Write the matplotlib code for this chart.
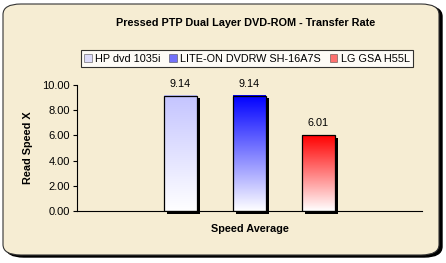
import numpy as np
import matplotlib
matplotlib.use('Agg')
import matplotlib.pyplot as plt
from matplotlib.patches import FancyBboxPatch, Rectangle
from matplotlib.colors import LinearSegmentedColormap

# Chart data
drives = ['HP dvd 1035i', 'LITE-ON DVDRW SH-16A7S', 'LG GSA H55L']
speeds = [9.14, 9.14, 6.01]
top_colors = ['#C4C4FF', '#0000FF', '#FF0000']
category = 'Speed Average'

plt.rcParams['font.family'] = ['Liberation Sans', 'DejaVu Sans']

fig = plt.figure(figsize=(4.46, 2.63), dpi=100)
fig.patch.set_facecolor('white')

# rounded chart-area background with a dark shadow
W, H = 446, 263
shadow = FancyBboxPatch((6 / W, 6 / H), 436 / W, 251 / H,
                        boxstyle='round,pad=0,rounding_size=0.04',
                        transform=fig.transFigure, facecolor='black',
                        edgecolor='black', zorder=0)
bg = FancyBboxPatch((3 / W, 8 / H), 436 / W, 251 / H,
                    boxstyle='round,pad=0,rounding_size=0.04',
                    transform=fig.transFigure, facecolor='#F6EDD3',
                    edgecolor='#333333', linewidth=0.8, zorder=1)
fig.patches.extend([shadow, bg])

ax = fig.add_axes([77 / W, 1 - 211 / H, 345 / W, 126 / H])
ax.set_facecolor('none')
ax.set_zorder(2)

x = np.array([0.3, 0.5, 0.7])
width = 0.095

for xi, val, col in zip(x, speeds, top_colors):
    # shadow behind each bar
    ax.add_patch(Rectangle((xi - width / 2 + 0.009, -0.2), width, val,
                           facecolor='black', edgecolor='none', zorder=1,
                           clip_on=False))
    cmap = LinearSegmentedColormap.from_list('g', ['white', col])
    grad = np.linspace(0, 1, 256).reshape(-1, 1)
    ax.imshow(grad, cmap=cmap, origin='lower', aspect='auto',
              extent=(xi - width / 2, xi + width / 2, 0, val), zorder=2)
    ax.add_patch(Rectangle((xi - width / 2, 0), width, val, facecolor='none',
                           edgecolor='black', linewidth=0.9, zorder=3))
    ax.text(xi, val + 0.55, f'{val:.2f}', ha='center', va='bottom', fontsize=7.8)

ax.set_xlim(0, 1)
ax.set_ylim(0, 10)
ax.set_yticks(np.arange(0, 10.1, 2))
ax.set_yticklabels([f'{t:.2f}' for t in np.arange(0, 10.1, 2)], fontsize=8)
ax.set_xticks([])
ax.tick_params(axis='y', direction='out', length=3, width=0.8, pad=2)
for s in ['top', 'right']:
    ax.spines[s].set_visible(False)
ax.spines['left'].set_linewidth(0.8)
ax.spines['bottom'].set_linewidth(0.8)

ax.set_ylabel('Read Speed X', fontsize=7.8, fontweight='bold', labelpad=7)
ax.set_xlabel(category, fontsize=7.8, fontweight='bold', labelpad=9)

fig.text(246 / W, 1 - 23 / H, 'Pressed PTP Dual Layer DVD-ROM - Transfer Rate',
         ha='center', va='center', fontsize=7.8, fontweight='bold', zorder=3)

# legend with gradient-looking swatches
handles = [Rectangle((0, 0), 1, 1, facecolor=c, edgecolor='#333333', linewidth=0.6, alpha=0.55)
           for c in top_colors]
leg = fig.legend(handles, drives, loc='center', bbox_to_anchor=(247 / W, 1 - 58.5 / H),
                 ncol=3, fontsize=7.8, frameon=True, fancybox=False,
                 handlelength=0.7, handleheight=0.7, handletextpad=0.3,
                 columnspacing=0.8, borderpad=0.35)
leg.get_frame().set_edgecolor('black')
leg.get_frame().set_linewidth(0.8)
leg.get_frame().set_facecolor('white')
leg.set_zorder(3)

fig.savefig('out.png', dpi=100)
